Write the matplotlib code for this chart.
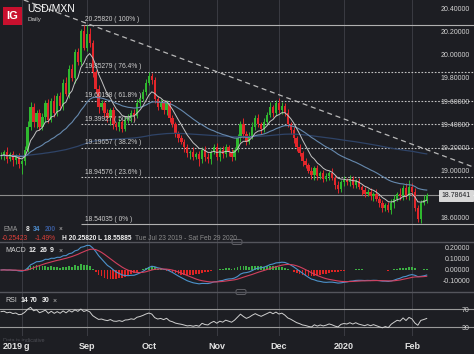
import matplotlib
matplotlib.use("Agg")
import matplotlib.pyplot as plt
import matplotlib.transforms as mtransforms
from matplotlib.patches import FancyBboxPatch
import numpy as np
import pandas as pd

# daily closes (USD/MXN, from Tue 23 Jul 2019)
closes = [
    19.13, 19.16, 19.10, 19.14, 19.09, 19.12, 19.06, 19.08, 19.18, 19.38,
    19.55, 19.42, 19.50, 19.38, 19.46, 19.58, 19.44, 19.60, 19.50, 19.64,
    19.56, 19.76, 19.66, 19.88, 19.80, 20.02, 19.94, 20.20, 20.06, 20.18,
    20.10, 19.85, 19.70, 19.55, 19.58, 19.50, 19.45, 19.52, 19.40, 19.38,
    19.42, 19.36, 19.44, 19.45, 19.50, 19.47, 19.58, 19.62, 19.68, 19.76,
    19.82, 19.78, 19.62, 19.55, 19.58, 19.52, 19.58, 19.45, 19.40, 19.32,
    19.28, 19.25, 19.20, 19.15, 19.16, 19.12, 19.14, 19.10, 19.18, 19.12,
    19.10, 19.16, 19.20, 19.12, 19.18, 19.14, 19.20, 19.16, 19.12, 19.18,
    19.28, 19.40, 19.32, 19.25, 19.30, 19.38, 19.45, 19.40, 19.36, 19.42,
    19.48, 19.55, 19.50, 19.58, 19.52, 19.56, 19.50, 19.40, 19.35, 19.28,
    19.20, 19.15, 19.08, 19.05, 19.00, 18.96, 19.02, 18.95, 18.98, 18.93,
    18.95, 18.98, 18.94, 18.88, 18.84, 18.90, 18.92, 18.90, 18.93, 18.88,
    18.91, 18.86, 18.83, 18.80, 18.82, 18.78, 18.80, 18.76, 18.72, 18.68,
    18.70, 18.66, 18.72, 18.76, 18.80, 18.78, 18.85, 18.78, 18.86, 18.82,
    18.68, 18.58, 18.72, 18.75, 18.78641,
]
# wick lengths above / below the body, in hundredths
wick_hi = [
    3, 2, 4, 2, 3, 2, 3, 2, 3, 5, 4, 3, 2, 3, 4, 3, 4, 3, 5, 3,
    4, 3, 5, 3, 4, 3, 4, 2, 6, 8, 5, 3, 2, 4, 3, 2, 3, 2, 3, 2,
    3, 2, 3, 4, 2, 3, 4, 3, 2, 3, 3, 2, 3, 2, 4, 2, 3, 2, 3, 2,
    2, 3, 2, 3, 2, 4, 2, 3, 2, 3, 3, 2, 3, 4, 2, 3, 3, 2, 3, 2,
    4, 3, 5, 2, 3, 4, 3, 4, 2, 3, 3, 4, 2, 3, 5, 3, 2, 3, 2, 3,
    2, 3, 2, 3, 2, 3, 2, 3, 2, 3, 3, 2, 4, 2, 3, 2, 3, 2, 3, 2,
    2, 3, 2, 3, 2, 3, 2, 4, 2, 3, 2, 3, 4, 3, 2, 5, 3, 4, 6, 3,
    3, 2, 3, 4, 2,
]
wick_lo = [
    3, 4, 3, 2, 5, 3, 4, 9, 3, 2, 3, 4, 5, 3, 3, 4, 3, 2, 4, 3,
    3, 4, 2, 3, 3, 4, 3, 3, 2, 3, 3, 4, 3, 5, 3, 4, 3, 6, 4, 3,
    4, 3, 2, 3, 3, 4, 2, 3, 2, 3, 2, 3, 4, 3, 2, 3, 4, 3, 2, 3,
    3, 2, 4, 3, 5, 3, 2, 6, 3, 4, 3, 4, 2, 3, 4, 3, 2, 3, 4, 3,
    2, 3, 4, 3, 2, 3, 3, 2, 4, 3, 3, 2, 4, 3, 2, 3, 3, 2, 3, 4,
    3, 2, 4, 3, 2, 3, 4, 3, 2, 3, 2, 3, 2, 4, 3, 2, 3, 2, 3, 3,
    3, 2, 4, 3, 2, 3, 4, 2, 3, 4, 3, 2, 3, 4, 2, 3, 3, 2, 3, 4,
    3, 2, 3, 2, 3,
]
start_date = "2019-07-23"
month_labels = ["Aug", "Sep", "Oct", "Nov", "Dec", "2020", "Feb"]

fib_high = 20.25820
fib_low = 18.54035
fib_ratios = [1.0, 0.764, 0.618, 0.5, 0.382, 0.236, 0.0]
fib_start = 27

trend_idx = [29, 95]
trend_px = [20.27, 19.645]

price_ticks = [20.4, 20.2, 20.0, 19.8, 19.6, 19.4, 19.2, 19.0, 18.6]
macd_ticks = [0.2, 0.1, 0.0, -0.1]
rsi_ticks = [70, 30]

BG = "#1d1e23"
GRID = "#3a3b42"
GREEN = "#2fb82f"
RED = "#e3262b"
W, H = 474, 354

plt.rcParams["font.family"] = ["Liberation Sans", "DejaVu Sans"]

# data
c = np.array(closes)
o = np.r_[c[0], c[:-1]]
hi = np.maximum(o, c) + np.array(wick_hi) / 100
lo = np.minimum(o, c) - np.array(wick_lo) / 100
n = len(c)
x = np.arange(n)
dates = pd.bdate_range(start_date, periods=n)
month_idx = [int(np.argmax(dates.month == m)) for m in [8, 9, 10, 11, 12, 1, 2]]

s = pd.Series(c)
ema8 = s.ewm(span=8, adjust=False).mean()
ema34 = s.ewm(span=34, adjust=False).mean()
ema200 = s.ewm(span=200, adjust=False).mean()
macd = s.ewm(span=12, adjust=False).mean() - s.ewm(span=26, adjust=False).mean()
signal = macd.ewm(span=9, adjust=False).mean()
hist = macd - signal

# Wilder RSI, seeded with the average move of the first 14 sessions
d = np.diff(c, prepend=c[0])
gains, losses = d.clip(min=0), (-d).clip(min=0)
ag, al = gains[1:15].mean(), losses[1:15].mean()
rsi = []
for i in range(n):
    if i > 0:
        ag = (ag * 13 + gains[i]) / 14
        al = (al * 13 + losses[i]) / 14
    rsi.append(100 - 100 / (1 + ag / al))
rsi = np.array(rsi)

fig = plt.figure(figsize=(W / 100, H / 100), dpi=100, facecolor=BG)


def pane(top, bottom):
    return fig.add_axes([0, 1 - bottom / H, 1, (bottom - top) / H], facecolor=BG)


ax = pane(0, 242)
axm = pane(242, 292)
axr = pane(292, 336)

xlim = (-0.35, 160)
for a in (ax, axm, axr):
    a.set_xlim(*xlim)
    for sp in a.spines.values():
        sp.set_visible(False)
    for m in month_idx:
        a.axvline(m, color=GRID, lw=0.7, zorder=0)
    a.set_xticks([])
    a.yaxis.tick_right()
    a.tick_params(axis="y", length=0, pad=-3, labelsize=5, labelcolor="#d4d4d4")

# ---- price pane
ax.set_ylim(18.385, 20.4716)
ax.set_yticks(price_ticks)
ax.set_yticklabels([f"{t:.5f}" for t in price_ticks])
plt.setp(ax.get_yticklabels(), ha="right")

colors = np.where(c >= o, GREEN, RED)
ax.vlines(x, lo, hi, colors=colors, lw=0.7, zorder=3)
ax.bar(x, np.maximum(np.abs(c - o), 0.006), bottom=np.minimum(o, c), width=0.78,
       color=colors, zorder=4)

ax.plot(x, ema200, color="#2f4468", lw=0.9, zorder=5)
ax.plot(x, ema34, color="#6689ae", lw=0.8, zorder=5)
ax.plot(x, ema8, color="#c4c4c4", lw=0.7, zorder=6)

ax.axline((trend_idx[0], trend_px[0]), (trend_idx[1], trend_px[1]),
          color="#b8b8b8", lw=0.9, ls=(0, (4, 3)), zorder=2)

for r in fib_ratios:
    lvl = fib_low + (fib_high - fib_low) * r
    solid = r in (0.0, 1.0)
    ax.hlines(lvl, fib_start, xlim[1], color="#b0b0b0" if solid else "#c4c4c4",
              lw=0.8, ls="-" if solid else (0, (1.5, 1.5)), zorder=1)
    pct = f"{r * 100:.1f}".rstrip("0").rstrip(".")
    ax.text(fib_start + 1.3, lvl + 0.012, f"{lvl:.5f} ( {pct}% )", fontsize=4.8,
            color="#cfcfcf", va="bottom", ha="left", zorder=7)

last = c[-1]
ax.axhline(last, color="#8c8c8c", lw=0.8, zorder=1)
trans = mtransforms.blended_transform_factory(ax.transAxes, ax.transData)
ax.text(0.993, last, f"{last:.5f}", transform=trans, ha="right", va="center",
        fontsize=5, color="#1d1e23", zorder=10,
        bbox=dict(boxstyle="square,pad=0.35", fc="#d8d8d8", ec="#ffffff", lw=0.5))

# ---- MACD pane
axm.set_ylim(-0.2, 0.2545)
axm.set_yticks(macd_ticks)
axm.set_yticklabels([f"{t:.5f}" for t in macd_ticks])
plt.setp(axm.get_yticklabels(), ha="right")
axm.bar(x, hist, width=0.6, color=np.where(hist >= 0, "#3cb043", "#e02424"), zorder=2)
axm.plot(x, macd, color="#4d93cc", lw=0.8, zorder=3)
axm.plot(x, signal, color="#d2405e", lw=0.8, zorder=3)

# ---- RSI pane
axr.set_ylim(10, 107.8)
axr.set_yticks(rsi_ticks)
axr.set_yticklabels([str(t) for t in rsi_ticks])
plt.setp(axr.get_yticklabels(), ha="right")
for lv in rsi_ticks:
    axr.axhline(lv, color="#9a9a9a", lw=0.8, zorder=1)
axr.plot(x, rsi, color="#d0d0d0", lw=0.7, zorder=3)
axr.plot(x, np.where(rsi >= 70, rsi, np.nan), color="#d06070", lw=1.0, zorder=4)
axr.plot(x, np.where(rsi <= 30, rsi, np.nan), color="#5fae6a", lw=1.0, zorder=4)
axr.set_xticks(month_idx)
axr.set_xticklabels(month_labels)
axr.tick_params(axis="x", length=0, pad=4, labelsize=6.5, labelcolor="#e2e2e2")
plt.setp(axr.get_xticklabels(), fontweight="bold")

# ---- separators and handles
for yy in (242, 292):
    fig.add_artist(plt.Line2D([0, 1], [1 - yy / H] * 2, color="#54555c", lw=1.0))
for hx, hy in ((232, 242), (236, 292)):
    fig.add_artist(FancyBboxPatch((hx / W, 1 - (hy + 2.5) / H), 10 / W, 5 / H,
                                  boxstyle="round,pad=0,rounding_size=0.004",
                                  fc=BG, ec="#6a6a70", lw=0.6))


def ftext(px, py, txt, **kw):
    kw.setdefault("va", "center")
    kw.setdefault("fontsize", 4.8)
    fig.text(px / W, 1 - py / H, txt, **kw)


# header
fig.add_artist(FancyBboxPatch((3 / W, 1 - 25 / H), 19 / W, 18 / H,
                              boxstyle="square,pad=0", fc="#c8102e", ec="none"))
ftext(12.5, 16, "IG", color="white", fontsize=8, fontweight="bold", ha="center")
ftext(27, 9, "USD/MXN", color="white", fontsize=7.5)
ftext(28, 19.5, "Daily", color="#c8c8c8", fontsize=4.5)

# indicator legends
ftext(3, 229.5, "EMA", color="#9a9a9a")
ftext(26, 229.5, "8", color="#e8e8e8", fontweight="bold")
ftext(33, 229.5, "34", color="#4f8fd0", fontweight="bold")
ftext(45, 229.5, "200", color="#3a5a9a", fontweight="bold")
ftext(59, 229.5, "×", color="#c0c0c0")
ftext(2, 238, "-0.25423", color="#e0403a")
ftext(35, 238, "-1.49%", color="#e0403a")
ftext(62, 238, "H 20.25820", color="#f0f0f0", fontweight="bold")
ftext(98, 238, "L 18.55885", color="#f0f0f0", fontweight="bold")
ftext(135, 238, "Tue Jul 23 2019 - Sat Feb 29 2020", color="#8a8a8a")

ftext(5, 251, "MACD", color="#d0d0d0", fontsize=5)
ftext(29, 251, "12", color="#f0f0f0", fontsize=5, fontweight="bold")
ftext(40, 251, "26", color="#f0f0f0", fontsize=5, fontweight="bold")
ftext(50, 251, "9", color="#f0f0f0", fontsize=5, fontweight="bold")
ftext(59, 251, "×", color="#c0c0c0", fontsize=5)

ftext(5, 301, "RSI", color="#d0d0d0", fontsize=5)
ftext(21, 301, "14", color="#f0f0f0", fontsize=5, fontweight="bold")
ftext(30, 301, "70", color="#f0f0f0", fontsize=5, fontweight="bold")
ftext(42, 301, "30", color="#f0f0f0", fontsize=5, fontweight="bold")
ftext(53, 301, "×", color="#c0c0c0", fontsize=5)

ftext(3, 340, "Data is indicative", color="#4c4d54", fontsize=4)
ftext(3, 346.5, "2019", color="#e2e2e2", fontsize=6.5, fontweight="bold",
      bbox=dict(boxstyle="square,pad=0.1", fc=BG, ec="none"), zorder=20)

fig.savefig("out.png", dpi=100, facecolor=BG)
